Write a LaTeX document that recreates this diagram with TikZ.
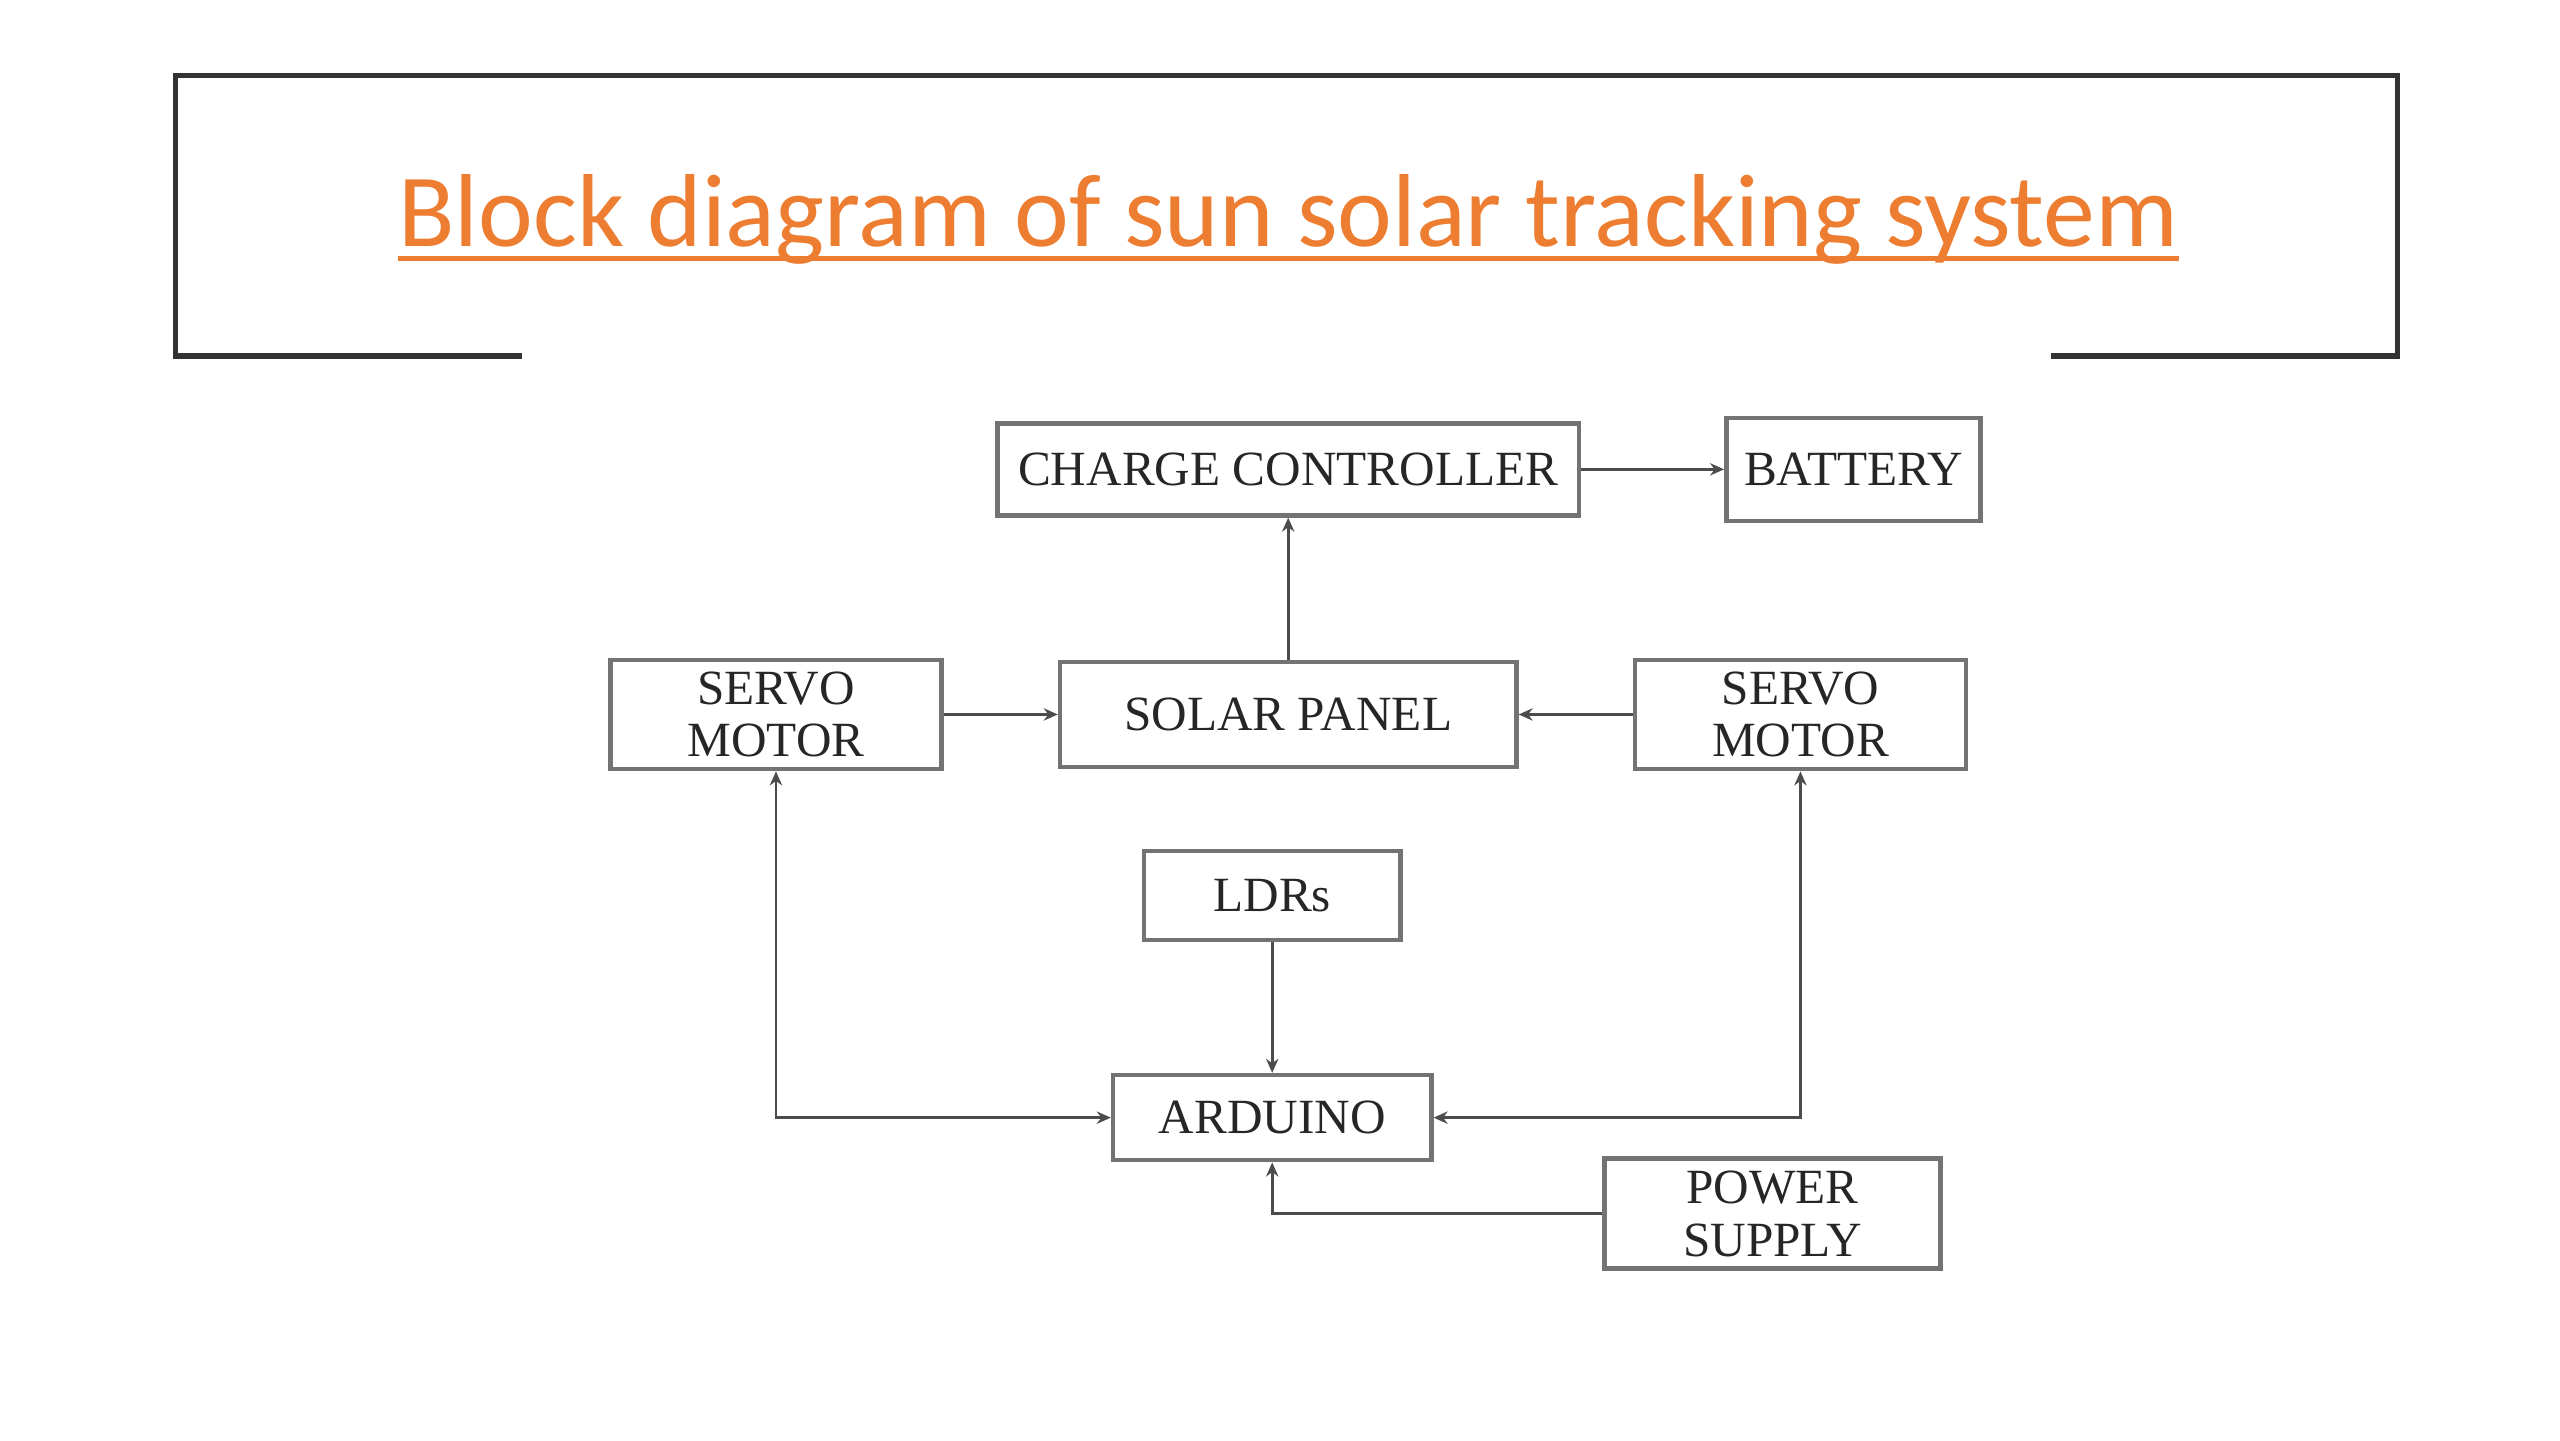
\documentclass[tikz,border=0pt]{standalone}
\usepackage{fontspec}
\setmainfont{Liberation Serif}
\newfontfamily\titlefont{Carlito}
\usetikzlibrary{arrows.meta}
\definecolor{titleorange}{HTML}{ED7D31}
\begin{document}
\begin{tikzpicture}[x=0.01641cm, y=-0.01641cm]
    \tikzstyle{block} = [rectangle, draw=black!55, line width=1.3pt, text=black!85, align=center,
                                      font=\fontsize{14}{15}\selectfont]
    \tikzstyle{link} = [line width=0.8pt, black!70, >={Stealth[length=4pt, width=3.5pt]}]
  \useasboundingbox (0,0) rectangle (1560,878);
  \draw[line width=1.5pt, black!80] (318,217) -- (107,217) -- (107,46) -- (1461,46) -- (1461,217) -- (1250,217);
  \node[anchor=base, inner sep=0pt, text=titleorange, font=\titlefont\fontsize{29.5}{36}\selectfont](title) at (785,150){Block diagram of sun solar tracking system};
  \draw[titleorange, line width=1.5pt] ([yshift=-3.5pt]title.base west) -- ([yshift=-3.5pt]title.base east);
  \node[block, minimum width=5.81cm, minimum height=0.92cm](cc) at (785,286){CHARGE CONTROLLER};
  \node[block, node distance=5.65cm, right of=cc, minimum width=2.54cm, minimum height=1.03cm](battery){BATTERY};
  \node[block, node distance=2.45cm, below of=cc, minimum width=4.56cm, minimum height=1.05cm](panel){SOLAR PANEL};
  \node[block, node distance=5.12cm, left of=panel, minimum width=3.31cm, minimum height=1.08cm](servoL){SERVO\\MOTOR};
  \node[block, node distance=5.12cm, right of=panel, minimum width=3.31cm, minimum height=1.08cm](servoR){SERVO\\MOTOR};
  \node[block, node distance=1.81cm, below of=panel, xshift=-0.16cm, minimum width=2.56cm, minimum height=0.89cm](ldr){LDRs};
  \node[block, node distance=2.22cm, below of=ldr, minimum width=3.18cm, minimum height=0.85cm](arduino){ARDUINO};
  \node[block, node distance=5cm, right of=arduino, yshift=-0.96cm, minimum width=3.36cm, minimum height=1.1cm](power){POWER\\SUPPLY};
  \draw[link, ->] (cc) -- (battery);
  \draw[link, ->] (panel) -- (cc);
  \draw[link, ->] (servoL) -- (panel);
  \draw[link, ->] (servoR) -- (panel);
  \draw[link, ->] (ldr) -- (arduino);
  \draw[link, <->] (servoL.south) |- (arduino.west);
  \draw[link, <->] (servoR.south) |- (arduino.east);
  \draw[link, ->] (power.west) -| (arduino.south);
  \end{tikzpicture}
\end{document}
